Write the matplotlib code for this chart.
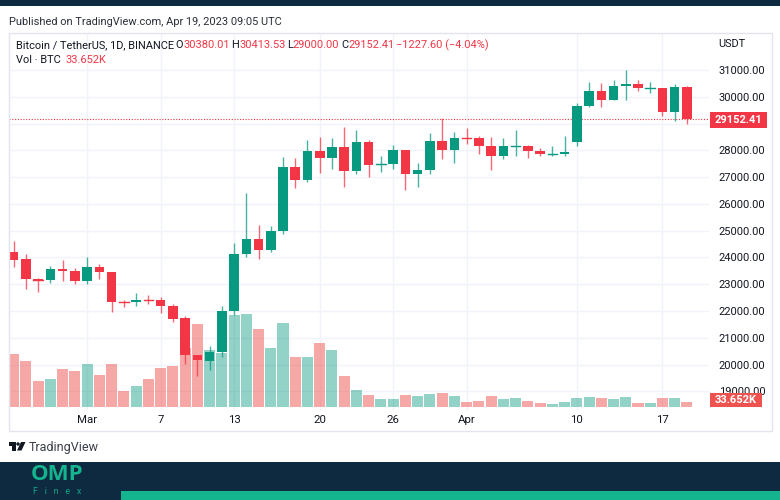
import matplotlib
matplotlib.use('Agg')
import matplotlib.pyplot as plt
from matplotlib.patches import Rectangle, Polygon, Circle

plt.rcParams['font.family'] = ['Roboto', 'DejaVu Sans']

# Daily candles, 23 Feb to 19 Apr 2023
opens = [24210, 23930, 23185, 23157, 23554, 23492, 23130, 23629, 23465, 22354, 22346, 22430, 22409, 22190,
         21735, 20360, 20150, 20460, 22000, 24120, 24680, 24285, 24998, 27395, 26890, 27990, 27700, 28115,
         27240, 28315, 27450, 27490, 28000, 27130, 27270, 28350, 28000, 28470, 28450, 28170, 27800, 28165,
         28175, 27974, 27860, 27880, 28323, 29650, 30230, 29880, 30390, 30485, 30315, 30315, 29430, 30380]
highs = [24630, 24132, 23219, 23689, 23897, 23600, 24000, 23770, 23476, 22410, 22662, 22602, 22536, 22267,
         21830, 20367, 20710, 22190, 24540, 26400, 25210, 25168, 27756, 27730, 28390, 28500, 28450, 28880,
         28740, 28400, 27790, 28200, 28020, 27540, 28650, 29200, 28690, 28820, 28540, 28500, 28444, 28775,
         28190, 28100, 28160, 28530, 29770, 30550, 30500, 30620, 31000, 30620, 30550, 30320, 30485, 30413.53]
lows = [23630, 22841, 22722, 23059, 23106, 23020, 23020, 23195, 21971, 22153, 22189, 22258, 21927, 21580,
        20040, 19570, 19800, 20300, 21850, 24020, 23940, 24200, 24880, 26590, 26827, 27150, 27300, 26630,
        27115, 27015, 27190, 27300, 26510, 26640, 27100, 27680, 27540, 28240, 27860, 27260, 27662, 27800,
        27711, 27770, 27780, 27800, 28170, 29600, 29620, 29860, 29880, 30230, 30120, 29270, 29090, 29000]
closes = [23920, 23185, 23157, 23554, 23492, 23130, 23629, 23465, 22354, 22346, 22430, 22409, 22190, 21705,
          20360, 20170, 20460, 22000, 24120, 24680, 24285, 24998, 27395, 26890, 27990, 27700, 28115, 27240,
          28315, 27450, 27490, 28000, 27130, 27270, 28350, 28000, 28470, 28450, 28170, 27800, 28165, 28175,
          27974, 27860, 27880, 27950, 29650, 30230, 29880, 30390, 30485, 30320, 30330, 29430, 30380, 29152.41]
volumes = [359, 310, 175, 186, 258, 240, 287, 217, 287, 110, 139, 186, 264, 276, 399, 559, 386, 366, 617, 628,
           523, 399, 563, 334, 334, 429, 382, 207, 116, 81, 52, 52, 81, 74, 85, 94, 74, 34, 40, 74, 52, 59,
           38, 29, 22, 34, 63, 65, 59, 52, 69, 29, 29, 59, 59, 33.652]

tick_pos = [6, 12, 18, 25, 31, 37, 46, 53]
tick_labels = ['Mar', '7', '13', '20', '26', 'Apr', '10', '17']
price_ticks = [19000, 20000, 21000, 22000, 23000, 24000, 25000, 26000, 27000, 28000, 29000, 30000, 31000]

GREEN = '#089981'
RED = '#f23645'
VOL_RED = '#ef5350'
NAVY = '#0e2a40'
TEAL = '#14b48f'
GRID = '#f0f3fa'
TEXT = '#131722'

# volume shares the price axis, scaled onto the bottom of the pane
VOL_BASE = 18422
VOL_SCALE = 5.547

fig = plt.figure(figsize=(7.8, 5), dpi=100, facecolor='white')

# main pane: pixels 8.5-709 across, 33-411 down
ax = fig.add_axes([8.5 / 780, 1 - 411 / 500, 700.5 / 780, 378 / 500])
ax.set_xlim(-0.425, 56.8)
ax.set_ylim(18272, 32377)
for s in ax.spines.values():
    s.set_visible(False)

ax.yaxis.tick_right()
ax.set_yticks(price_ticks)
# the 29000 label sits hidden under the last price tag
ax.set_yticklabels(['' if p == 29000 else f'{p:.2f}' for p in price_ticks], fontsize=8, color=TEXT)
ax.set_xticks(tick_pos)
ax.set_xticklabels(tick_labels, fontsize=8.2, color=TEXT)
ax.tick_params(axis='y', length=0, pad=7)
ax.tick_params(axis='x', length=0, pad=3)
ax.grid(True, color=GRID, linewidth=1)
ax.set_axisbelow(True)

for x, (o, h, l, c, v) in enumerate(zip(opens, highs, lows, closes, volumes)):
    up = c >= o
    if up:
        ax.bar(x, v * VOL_SCALE, bottom=VOL_BASE, width=0.9, color=GREEN, alpha=0.44, linewidth=0, zorder=2)
    else:
        ax.bar(x, v * VOL_SCALE, bottom=VOL_BASE, width=0.9, color=VOL_RED, alpha=0.5, linewidth=0, zorder=2)
    col = GREEN if up else RED
    ax.plot([x, x], [l, h], color=col, linewidth=1, alpha=0.75, solid_capstyle='butt', zorder=3)
    ax.bar(x, abs(c - o), bottom=min(o, c), width=0.78, color=col, linewidth=0, zorder=4)
    if abs(c - o) < 60:
        ax.plot([x - 0.39, x + 0.39], [c, c], color=col, linewidth=1, zorder=4)

ax.axhline(closes[-1], color=RED, linewidth=0.8, linestyle=(0, (1, 1.5)), zorder=2.5)

# overlay in picture pixels for frame, header, tags and footer
ov = fig.add_axes([0, 0, 1, 1], zorder=5)
ov.set_xlim(0, 780)
ov.set_ylim(500, 0)
ov.axis('off')
ov.patch.set_visible(False)

ov.add_patch(Rectangle((0, 0), 780, 6, color=NAVY, lw=0))
ov.add_patch(Rectangle((0, 462), 780, 38, color=NAVY, lw=0))
ov.add_patch(Rectangle((121, 491), 659, 9, color=TEAL, lw=0))
ov.add_patch(Rectangle((8.5, 33), 763, 398, fill=False, edgecolor='#e3e5ee', lw=1))

ov.text(9, 22, 'Published on TradingView.com, Apr 19, 2023 09:05 UTC', fontsize=7.9, color='#2a2e39', va='center')

ov.text(16, 45.5, 'Bitcoin / TetherUS, 1D, BINANCE', fontsize=7.9, color=TEXT, va='center')
for x, lab, val, gap in [(175, 'O', '30380.01', 8), (231, 'H', '30413.53', 8), (287, 'L', '29000.00', 5.5), (341, 'C', '29152.41', 7)]:
    ov.text(x, 45.5, lab, fontsize=7.9, color=TEXT, va='center')
    ov.text(x + gap, 45.5, val, fontsize=7.9, color=RED, va='center')
ov.text(396, 45.5, '\u22121227.60 (\u22124.04%)', fontsize=7.9, color=RED, va='center')
ov.text(16, 60, 'Vol \u00b7 BTC', fontsize=7.9, color=TEXT, va='center')
ov.text(65, 60, '33.652K', fontsize=7.9, color=RED, va='center')
ov.text(718, 44, 'USDT', fontsize=7.9, color=TEXT, va='center')

ov.add_patch(Rectangle((710, 112), 57, 16, color=RED, lw=0))
ov.text(738.5, 120, '29152.41', fontsize=8, color='white', fontweight='bold', ha='center', va='center')
ov.add_patch(Rectangle((710, 393), 52, 14, color=VOL_RED, lw=0))
ov.text(736, 400.3, '33.652K', fontsize=8, color='white', fontweight='bold', ha='center', va='center')

# TradingView mark and name
ov.add_patch(Polygon([(8.5, 442), (16, 442), (16, 450.5), (12, 450.5), (12, 445.5), (8.5, 445.5)], color='#131722', lw=0))
ov.add_patch(Circle((18, 444), 1.7, color='#131722', lw=0))
ov.add_patch(Polygon([(21, 442), (25.5, 442), (21.5, 450.5), (17, 450.5)], color='#131722', lw=0))
ov.text(29, 447, 'TradingView', fontsize=9, color='#3a3e4a', va='center')

# OMP Finex footer logo
ov.text(57, 475, 'OMP', fontsize=16, color=TEAL, fontweight='bold', family='Open Sans', ha='center', va='center')
ov.text(57, 491, 'F   i   n   e   x', fontsize=6.5, color='#10a583', ha='center', va='center')

plt.savefig('out.png', dpi=100)
